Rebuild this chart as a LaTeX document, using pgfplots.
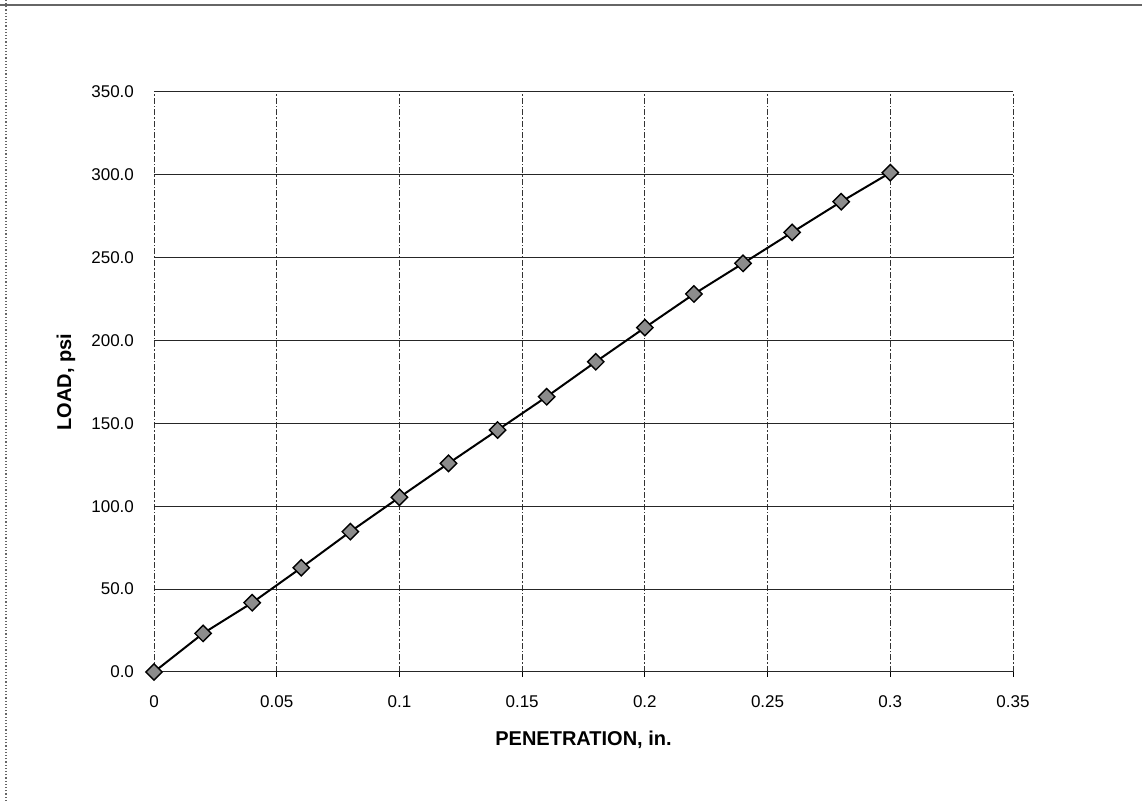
\documentclass[border=0pt]{standalone}
\usepackage{pgfplots}
\pgfplotsset{compat=1.18}
\usepackage{fontspec}
\setmainfont{Liberation Sans}
\begin{document}
\begin{tikzpicture}
\useasboundingbox (-77pt,-64.5pt) rectangle (494pt,336pt);
\draw[black!60, line width=0.6pt] (-77pt,333.5pt) -- (494pt,333.5pt);
\draw[black!60, line width=0.6pt, densely dotted] (-74pt,-64.5pt) -- (-74pt,336pt);
\begin{axis}[
  at={(0,0)}, anchor=south west,
  scale only axis,
  width=429.5pt, height=290pt,
  xmin=0, xmax=0.35, ymin=0, ymax=350,
  xtick={0,0.05,0.1,0.15,0.2,0.25,0.3,0.35},
  xticklabels={0,0.05,0.1,0.15,0.2,0.25,0.3,0.35},
  ytick={0,50,100,150,200,250,300,350},
  yticklabels={0.0,50.0,100.0,150.0,200.0,250.0,300.0,350.0},
  /pgf/number format/assume math mode=true,
  tick label style={font=\fontsize{8.5}{10}\selectfont},
  xticklabel style={yshift=-6pt},
  yticklabel style={xshift=-4pt},
  xtick pos=bottom, ytick pos=left,
  tick align=outside,
  major tick length=2.5pt,
  xtick style={black, line width=0.4pt},
  ytick style={draw=none},
  axis line style={draw=none},
  grid=major,
  x grid style={black!80, line width=0.4pt, dash pattern=on 3pt off 1pt on 0.8pt off 1pt},
  y grid style={black!85, line width=0.5pt},
  xlabel={\textbf{PENETRATION, in.}},
  ylabel={\textbf{LOAD, psi}},
  label style={font=\fontsize{8.5}{10}\selectfont},
  every axis x label/.style={at={(axis description cs:0.5,0)}, yshift=-34pt, anchor=center},
  every axis y label/.style={at={(axis description cs:0,0.5)}, xshift=-44pt, rotate=90, anchor=center},
]
\addplot[black, line width=1pt, mark=square*, mark size=2.9pt,
  mark options={rotate=45, fill=black!45, draw=black, line width=0.7pt}]
coordinates {
(0,0) (0.02,23.3) (0.04,41.8) (0.06,62.9) (0.08,84.7) (0.1,105.4)
(0.12,125.9) (0.14,146.0) (0.16,166.1) (0.18,187.2) (0.2,207.8)
(0.22,228.1) (0.24,246.6) (0.26,265.3) (0.28,283.8) (0.3,301.3)
};
\end{axis}
\end{tikzpicture}
\end{document}
